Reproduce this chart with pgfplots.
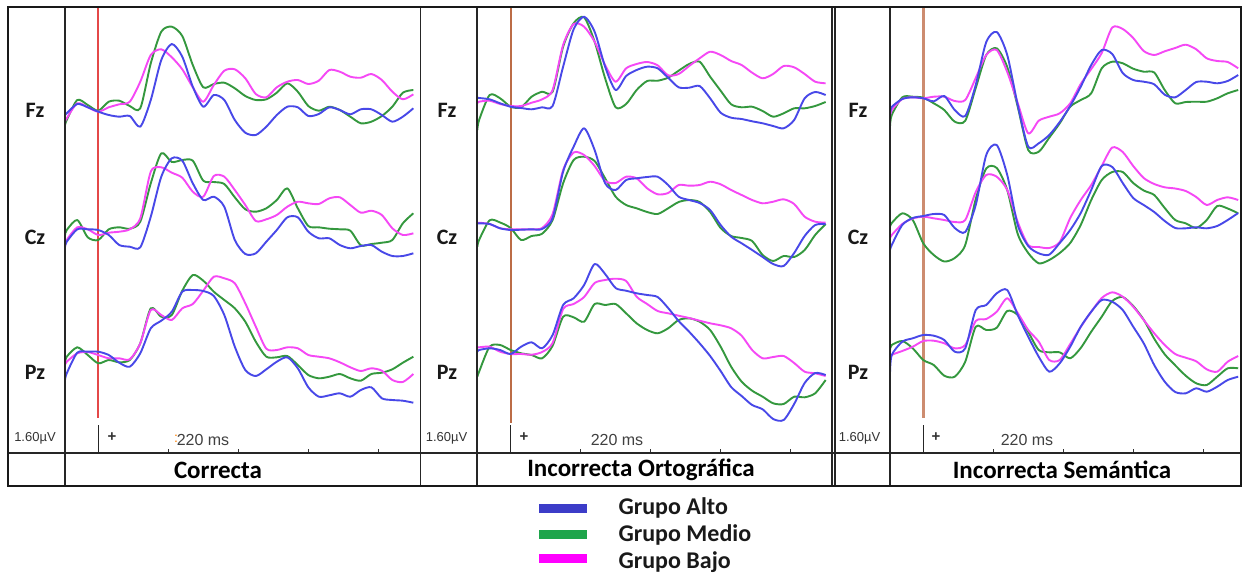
\documentclass[border=0pt]{standalone}
\usepackage{pgfplots}
\pgfplotsset{compat=1.18}
\usepackage{pgfplotstable}
\usepackage{fontspec}
\setmainfont{Carlito}
\newfontfamily\arialf{Liberation Sans}

\definecolor{alto}{RGB}{72,72,232}
\definecolor{medio}{RGB}{52,152,62}
\definecolor{bajo}{RGB}{245,72,245}
\definecolor{altoL}{RGB}{60,60,200}
\definecolor{medioL}{RGB}{30,165,75}
\definecolor{bajoL}{RGB}{255,0,255}
\definecolor{onsetA}{RGB}{228,72,72}
\definecolor{onsetB}{RGB}{188,108,70}
\definecolor{onsetC}{RGB}{205,140,112}

% Correcta  (t in ms, values = vertical screen position of each trace)
\pgfplotstableread{
t FzA FzM FzB CzA CzM CzB PzA PzM PzB
-95 115 125 121.7 246.7 235 246.7 380 363.3 365
-90 113.3 120 118.3 241.7 230 240 373.3 356.7 361.7
-60 104 100 103.3 229.3 220 227.3 352.7 347.3 353.3
-30 107.3 105 107.3 229.3 237.3 229.3 351.7 355 352
0 111.7 110.7 111.7 230 240 235 351.7 363.3 355
30 115 101.7 107.3 235 229.3 232.7 355 360 358.3
60 116.7 100.7 104.3 245 227.3 231.7 362.7 362.3 358.3
90 116 106 101.7 246.7 228.7 229.3 366.7 360 359.3
120 126.7 108.3 81.7 247.3 221.7 218.3 353.3 343.3 343.3
150 100 63.3 55 216.7 183.3 171.7 328.3 308.3 310
180 60 31.7 49.3 176.7 153.3 167.3 320.7 316.7 315
210 44 26.7 57.3 158.3 162 172.7 311.7 315 320
240 56.7 36 69.3 160.7 160 177.7 291.7 290.7 308.3
270 86.7 65 87.3 183.3 160.7 191.7 290 275 304
300 106.7 87.3 101.7 200 180.7 196.7 291 280.7 290.7
330 95 84 85 196.7 182 176 296 291.7 276.7
360 100 82.7 70.7 206.7 184 176.7 315 300 278.3
390 120 88.3 69.3 240 197.3 190 346.7 308.3 283.3
420 132.7 96 78.3 254 209.3 205 370 321.7 303.3
450 135 100 94 253.3 211.7 221 376 341.7 326.7
480 126.7 99.3 97.3 241.7 208.3 219.3 369.3 356.7 348.7
510 115 92.7 87.3 230 200 215 361.7 357.3 350
540 106.7 83.3 81.7 217.3 188.3 206.7 357.3 356 347.3
570 107.3 91.7 80 217.3 208.3 201.7 368.3 365 348.3
600 116 106 84 231.7 226 203.3 387.3 375 355
630 114 110.7 80.7 238.3 227.3 204 396.7 378.3 356.7
660 107.3 106.7 70 238.3 228.7 198.3 395.3 376.7 358.3
690 110 110 71.7 245 229.3 197.3 393.3 374 362.3
720 114.3 116.7 76.7 248.3 230.7 205 396.7 378.3 367.3
750 109.3 123.3 77.7 246 245.3 212.7 390 380.7 371
780 109.3 121.7 74 245 244 210.7 387.3 374 368.3
810 115 116 80 251.7 242.7 215 398.3 372.7 370.7
840 121.7 106.7 91.7 256 240 228.3 400 369.3 380
870 116.7 92.7 99.3 256 223.3 235 400.7 362.7 382
900 108.3 90 94.3 253.3 213.3 233.3 402.7 356.7 374
}\panelA

% Incorrecta Ortografica
\pgfplotstableread{
t FzA FzM FzB CzA CzM CzB PzA PzM PzB
-95 97.7 130 103.3 223.3 246.7 222.7 351.7 376.7 347.3
-90 98 120 101.7 223.3 240 222.7 350 371.7 347.3
-60 99.3 95 100.7 224 220.3 224 348.3 346.7 346.7
-30 103.3 98.3 104 228.3 222.5 228.3 350 345 351.7
0 106.7 106.7 106 230 228 229.3 354 350 354
30 108 107.3 106 229.7 240 229.3 346.7 353.3 354
60 109.3 96.7 102.7 229.3 236 229.3 342.3 355 354.7
90 107.3 91.7 99.3 229 233.7 228 348.3 358.3 352
120 106 91.7 90 218 220 214 335 345.7 343
150 66.7 46.7 45 171.7 183.3 170 305 316.7 309
180 29.3 23.3 24 146.7 160 152.5 298.3 317.3 304
210 16.7 17.3 26.7 128.3 156.7 155 285 321.7 297
240 31.7 41.7 41.7 150 161 166 264 304 283
270 66.7 78.3 65 183.3 178.3 181 274 305 280
300 90 107.3 81.7 190 196.7 183 288 304 278.7
330 76 104 68.3 180 205 176.7 290.7 313.3 281
360 70 90 64 178.3 208.3 178.3 293.3 323.3 296.7
390 66.7 81 62 177 212 188.3 295 330 304
420 68.3 80.7 65.3 176.7 214 194.3 297 333.3 311
450 77.7 77.7 75.3 185 208.3 193 308 328.3 313.3
480 87.3 70.7 74 196.7 202 185 321 320 315.7
510 87.7 64 66 200 200 185.7 331.7 318.3 318
540 86 61.7 58.3 203 202 185 343.3 321.7 320.7
570 98.3 76.7 51.7 210 212 181.7 356 330 323.3
600 112.7 90.7 55 225 228 184.3 371 346.7 325.3
630 117.7 104.3 61 236.7 236 190 387 366.7 328.3
660 119 107.3 65 243.3 238 195 396 381.7 335.7
690 121.3 106.7 72.7 250 241 200 405 390.7 350
720 123.3 111 78.3 257 255 203.3 409.3 396.7 358.3
750 126 116.7 74 264 261 201.7 419 403.3 357
780 128.3 113.3 66 266 256 199.3 420 404 356
810 120 108.3 67.3 253 257 204 404 396.7 363
840 98.3 108.3 74 236 250 216.7 383 397.3 371.7
870 92 106 81.7 225 235 221.7 373 393.3 373.3
900 95 102 83.3 224 224 222.7 375 380 376
}\panelB

% Incorrecta Semantica
\pgfplotstableread{
t FzA FzM FzB CzA CzM CzB PzA PzM PzB
-95 115 126.7 116.7 250 226.7 238.3 373.3 350 360
-90 107 115 110 245 223 235 355 345 355
-60 99 97.3 99 225 213.3 224 341.7 341 351
-30 97.3 96.7 97.3 218 220 218.5 338.3 348.3 346.7
0 98.3 97.7 98.3 216 243.3 216.7 335 360 341
30 101.3 103.3 96.7 214 255 218.3 335.7 365 340.7
60 96 110 96.7 215 261.5 220 340 375.7 343.3
90 110 121.7 101 228 258 222 351.7 376.7 348.3
120 116 120.7 100 232 245 220 348.3 361.7 345
150 85 88 78 205 199 192 310 326.7 321
180 42 55 55 155 168.5 175 305 330 319
210 32 48.3 50 145 168 176.7 293.3 327.7 311.7
240 55 67 72 175 190 190 290 311 298.3
270 105 106.7 103 225 234 222 315 315 313
300 146.7 150 133.3 246 253 245 336.7 332 330
330 143.3 151.7 120.7 253.3 263.3 247 356.7 350 341.7
360 135 137.7 116.7 254.7 260 248 371.7 352.3 360
390 122 123.3 113.3 243 253 242 363.3 352.3 360
420 106 106.7 103.3 230 243 218 346.7 358.3 344
450 86.7 100 84 213 225 200 326.7 348 327
480 65 93.3 69 190 200 185 311.7 331.7 311.7
510 50 68.3 53 166 180 166 300 316.7 298
540 54 61.7 27.5 167 172 147.5 301.7 301 292.3
570 73 63.3 29 183 172 152 310 297 296.7
600 80 68.7 38 198 183 166 326.7 306 306.7
630 81.7 71.7 51 205 190.5 178 343.3 319.7 320
660 84.3 72.5 55 212 195 184 365 338.7 333.3
690 94.7 90 51.3 221 208 187.3 381.7 354.3 345
720 97.3 103.3 48 228 220 188.5 392 365.3 354
750 90 102 44.7 228.3 223.3 191 393.3 375.7 357.7
780 82 101.7 49.3 227.3 228 197 388.3 383.3 361.3
810 81.7 101.7 58.3 228.3 220 205 391.7 385 369.3
840 83.3 98.3 61 226 206 200 386.7 376.7 371.7
870 81 93.3 62 220 208.5 197.3 380 368.3 361.7
900 75 90 68.3 213 213.3 200 376.7 368.3 356
}\panelC

\pgfplotsset{
  erp/.style={
    scale only axis, height=446pt, ymin=7, ymax=453, y dir=reverse,
    axis lines=none, clip=false, anchor=north west,
    every axis plot/.append style={line width=1.9pt, smooth, tension=0.45, line join=round},
  },
}

\newcommand{\traces}[1]{%
  \addplot[medio] table[x=t,y=FzM]{#1};
  \addplot[bajo]  table[x=t,y=FzB]{#1};
  \addplot[alto]  table[x=t,y=FzA]{#1};
  \addplot[medio] table[x=t,y=CzM]{#1};
  \addplot[bajo]  table[x=t,y=CzB]{#1};
  \addplot[alto]  table[x=t,y=CzA]{#1};
  \addplot[medio] table[x=t,y=PzM]{#1};
  \addplot[bajo]  table[x=t,y=PzB]{#1};
  \addplot[alto]  table[x=t,y=PzA]{#1};
}
\newcommand{\scalemarks}{%
  \draw[line width=1.4pt, black!85] (axis cs:0,425) -- (axis cs:0,452);
  \draw[line width=1.1pt, black!80] (axis cs:200,453) -- (axis cs:200,449);
  \draw[line width=1.1pt, black!80] (axis cs:400,453) -- (axis cs:400,449);
  \draw[line width=1.1pt, black!80] (axis cs:600,453) -- (axis cs:600,449);
  \draw[line width=1.1pt, black!80] (axis cs:800,453) -- (axis cs:800,449);
}

\begin{document}
\begin{tikzpicture}[x=1pt,y=-1pt]
\path[use as bounding box] (0,0) rectangle (1243,578);
\fill[white] (0,0) rectangle (1243,578);

% Panel 1
\begin{axis}[erp, at={(65pt,-7pt)}, width=355pt, xmin=-95, xmax=919]
\draw[onsetA, line width=2.2pt] (axis cs:0,7) -- (axis cs:0,418);
\traces{\panelA}
\scalemarks
\end{axis}

% Panel 2
\begin{axis}[erp, at={(477pt,-7pt)}, width=356pt, xmin=-96, xmax=921]
\draw[onsetB, line width=2.2pt] (axis cs:0,7) -- (axis cs:0,423);
\traces{\panelB}
\scalemarks
\end{axis}

% Panel 3
\begin{axis}[erp, at={(890pt,-7pt)}, width=351pt, xmin=-95, xmax=908]
\draw[onsetC, line width=2.6pt] (axis cs:0,7) -- (axis cs:0,418);
\traces{\panelC}
\scalemarks
\end{axis}

% frame
\draw[line width=1.4pt, black!85]
  (65,7) -- (65,486) (420.5,7) -- (420.5,486) (477,7) -- (477,486)
  (832,7) -- (832,486) (835,7) -- (835,486) (890,7) -- (890,486);
\draw[line width=1.9pt, black!85] (8,453) -- (1241,453);
\draw[line width=2.2pt, black!90] (8,7) rectangle (1241,486);

% channel labels
\foreach \cx in {35,447,858}{
  \node[font=\fontsize{22}{26}\selectfont\bfseries, text=black!90] at (\cx,110) {Fz};
  \node[font=\fontsize{22}{26}\selectfont\bfseries, text=black!90] at (\cx,237) {Cz};
  \node[font=\fontsize{22}{26}\selectfont\bfseries, text=black!90] at (\cx,372) {Pz};
}
% scale texts
\foreach \cx/\px/\mx in {35/112/203, 446.5/524/617, 859.5/936/1027}{
  \node[font=\arialf\fontsize{13}{15}\selectfont, text=black!80] at (\cx,438) {1.60µV};
  \node[font=\arialf\bfseries\fontsize{15}{17}\selectfont, text=black!80] at (\px,437) {+};
  \node[font=\arialf\fontsize{16}{18}\selectfont, text=black!75] at (\mx,440) {220 ms};
}
\node[font=\arialf\fontsize{14}{16}\selectfont, text=orange] at (176,439) {:};

% titles
\node[font=\fontsize{25}{29}\selectfont\bfseries] at (218,470) {Correcta};
\node[font=\fontsize{25}{29}\selectfont\bfseries] at (641,470) {Incorrecta Ortográfica};
\node[font=\fontsize{25}{29}\selectfont\bfseries] at (1062,470) {Incorrecta Semántica};

% legend
\fill[altoL]  (539,503.5) rectangle (587,512.5);
\fill[medioL] (539,529.5) rectangle (587,538.5);
\fill[bajoL]  (539,553.5) rectangle (587,562.5);
\node[anchor=west, font=\fontsize{24}{28}\selectfont\bfseries, text=black!90] at (615,508) {Grupo Alto};
\node[anchor=west, font=\fontsize{24}{28}\selectfont\bfseries, text=black!90] at (615,535) {Grupo Medio};
\node[anchor=west, font=\fontsize{24}{28}\selectfont\bfseries, text=black!90] at (615,562) {Grupo Bajo};
\end{tikzpicture}
\end{document}
